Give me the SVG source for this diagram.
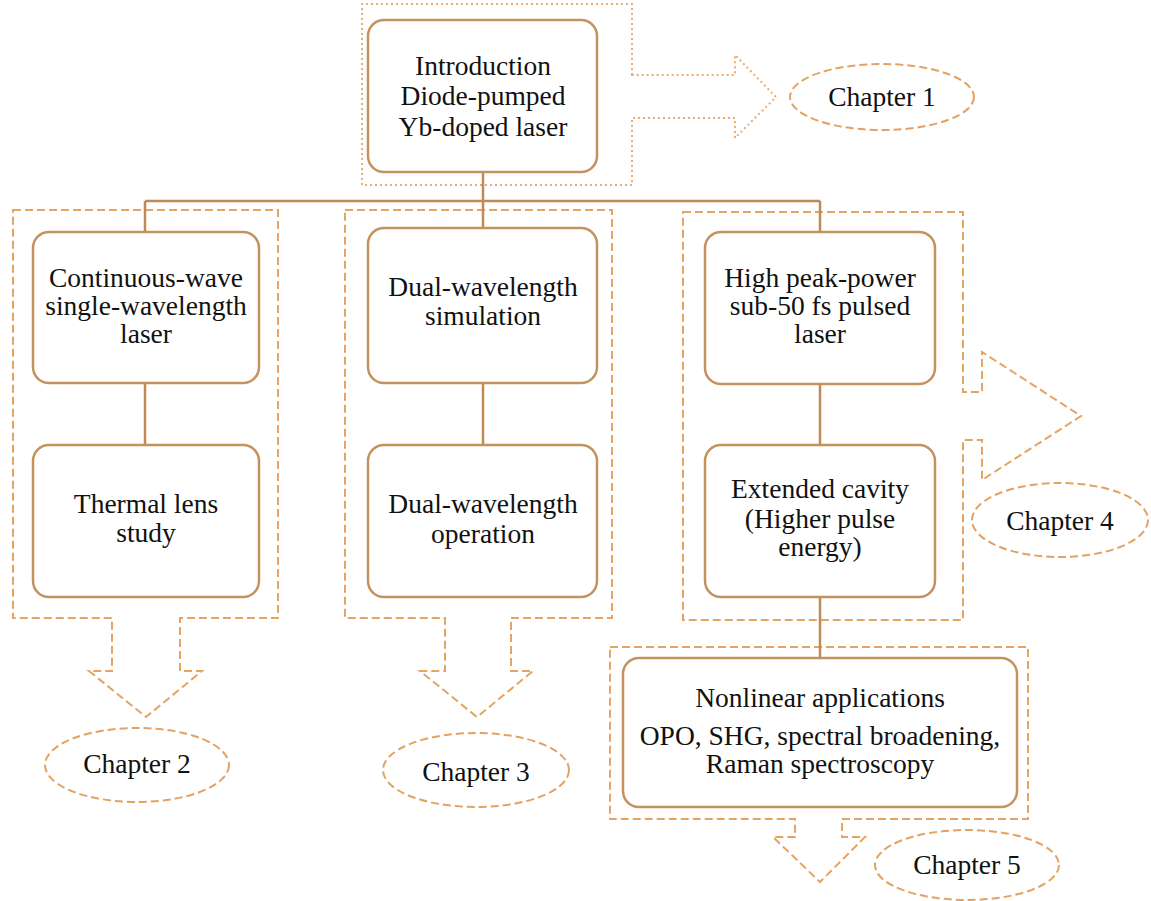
<svg xmlns="http://www.w3.org/2000/svg" width="1151" height="901" viewBox="0 0 1151 901">
<style>
.bg{fill:#ffffff}
.box{fill:#ffffff;stroke:#c4925c;stroke-width:2.5}
.grp{fill:none;stroke:#e6a463;stroke-width:2;stroke-dasharray:8 4}
.dot{fill:none;stroke:#e9ad72;stroke-width:2;stroke-dasharray:2 3}
.ell{fill:#ffffff;stroke:#e3a262;stroke-width:2;stroke-dasharray:8 4}
.con{fill:none;stroke:#bf8a55;stroke-width:2.5}
.t{font-family:"Liberation Serif","Times New Roman",serif;font-size:27.5px;fill:#111;text-anchor:middle}
</style>
<rect class="bg" x="0" y="0" width="1151" height="901"/>
<g id="outlines">
<path class="dot" d="M632,75 L632,4 L362,4 L362,185 L632,185 L632,118 L735,118 L735,138 L776,97 L735,55 L735,75 Z"/>
<path class="grp" d="M13,210 L278,210 L278,618 L180,618 L180,671 L202,671 L146,717 L89,671 L112,671 L112,618 L13,618 Z"/>
<path class="grp" d="M345,210 L612,210 L612,618 L511,618 L511,671 L533,671 L477,717 L420,671 L445,671 L445,618 L345,618 Z"/>
<path class="grp" d="M683,212 L963,212 L963,392 L982,392 L982,352 L1081,416 L982,480 L982,440 L963,440 L963,620 L683,620 Z"/>
<path class="grp" d="M610,647 L1028,647 L1028,819 L842,819 L842,837 L865,837 L820,882 L773,837 L795,837 L795,819 L610,819 Z"/>
</g>
<g id="connectors">
<path class="con" d="M483,172 L483,201 M145,201 L820,201 M145,201 L145,232 M820,201 L820,232 M483,201 L483,228"/>
<path class="con" d="M145,383 L145,445 M483,383 L483,445 M820,384 L820,445 M820,597 L820,658"/>
</g>
<g id="intro"><rect class="box" x="368" y="20" width="229" height="152" rx="16"/>
<text class="t" x="483" y="75">Introduction</text><text class="t" x="483" y="105">Diode-pumped</text><text class="t" x="483" y="136">Yb-doped laser</text></g>
<g id="chapter1"><ellipse class="ell" cx="882" cy="97" rx="92" ry="33"/><text class="t" x="882" y="106">Chapter 1</text></g>
<g id="cw"><rect class="box" x="33" y="232" width="226" height="151" rx="16"/>
<text class="t" x="146" y="287">Continuous-wave</text><text class="t" x="146" y="315">single-wavelength</text><text class="t" x="146" y="343">laser</text></g>
<g id="thermal"><rect class="box" x="33" y="445" width="226" height="152" rx="16"/>
<text class="t" x="146" y="513">Thermal lens</text><text class="t" x="146" y="542">study</text></g>
<g id="chapter2"><ellipse class="ell" cx="137" cy="765" rx="92" ry="37"/><text class="t" x="137" y="773">Chapter 2</text></g>
<g id="dualsim"><rect class="box" x="368" y="228" width="229" height="155" rx="16"/>
<text class="t" x="483" y="296">Dual-wavelength</text><text class="t" x="483" y="325">simulation</text></g>
<g id="dualop"><rect class="box" x="368" y="445" width="229" height="152" rx="16"/>
<text class="t" x="483" y="513">Dual-wavelength</text><text class="t" x="483" y="543">operation</text></g>
<g id="chapter3"><ellipse class="ell" cx="476" cy="770" rx="93" ry="37"/><text class="t" x="476" y="781">Chapter 3</text></g>
<g id="highpeak"><rect class="box" x="705" y="232" width="230" height="152" rx="16"/>
<text class="t" x="820" y="287">High peak-power</text><text class="t" x="820" y="315">sub-50 fs pulsed</text><text class="t" x="820" y="343">laser</text></g>
<g id="extended"><rect class="box" x="705" y="445" width="230" height="152" rx="16"/>
<text class="t" x="820" y="498">Extended cavity</text><text class="t" x="820" y="528">(Higher pulse</text><text class="t" x="820" y="556">energy)</text></g>
<g id="chapter4"><ellipse class="ell" cx="1060" cy="520" rx="88" ry="37"/><text class="t" x="1060" y="530">Chapter 4</text></g>
<g id="nonlinear"><rect class="box" x="623" y="658" width="394" height="149" rx="16"/>
<text class="t" x="820" y="707">Nonlinear applications</text><text class="t" x="820" y="745">OPO, SHG, spectral broadening,</text><text class="t" x="820" y="773">Raman spectroscopy</text></g>
<g id="chapter5"><ellipse class="ell" cx="967" cy="865" rx="92" ry="35"/><text class="t" x="967" y="874">Chapter 5</text></g>
</svg>
